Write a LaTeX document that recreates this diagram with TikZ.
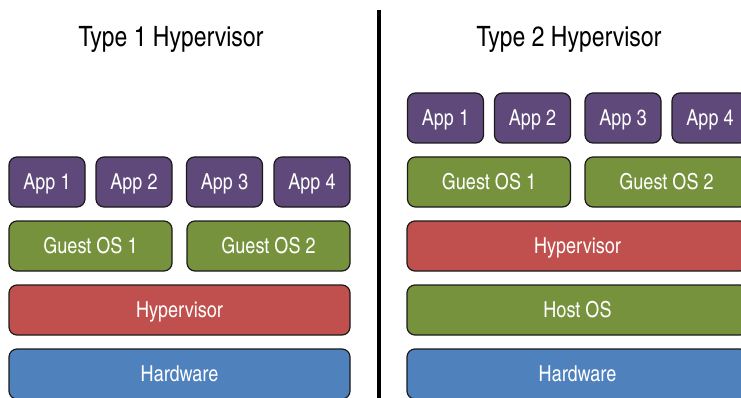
\documentclass[tikz,border=0pt]{standalone}
\usepackage{fontspec}
\setmainfont{texgyreheroscn-regular.otf}
\definecolor{apppurple}{HTML}{5F497A}
\definecolor{osgreen}{HTML}{76923C}
\definecolor{hvred}{HTML}{C0504D}
\definecolor{hwblue}{HTML}{4F81BD}
\definecolor{edge}{HTML}{1A1A1A}
\tikzset{
  layer/.style={draw=edge, line width=1.2pt, rounded corners=8pt, text=white,
    minimum height=50pt, inner sep=0pt, text height=15.8pt, text depth=0pt,
    font=\fontsize{22}{24}\selectfont},
  app/.style={layer, fill=apppurple, minimum width=76pt},
  guest/.style={layer, fill=osgreen, minimum width=163pt},
  hyper/.style={layer, fill=hvred, minimum width=341pt},
  hostos/.style={layer, fill=osgreen, minimum width=341pt},
  hw/.style={layer, fill=hwblue, minimum width=341pt},
  title/.style={font=\fontsize{28}{30}\selectfont, text=black, inner sep=0pt, anchor=base}
}
\begin{document}
\begin{tikzpicture}[x=1pt,y=-1pt]
\useasboundingbox (0,0) rectangle (741,398);
\clip (0,0) rectangle (741,398);
% titles
\node[title] (t1) at (171,47) {Type 1 Hypervisor};
\node[title] (t2) at (569,47) {Type 2 Hypervisor};
% divider
\coordinate (dtop) at (378.5,10);
\coordinate (dbot) at (378.5,410);
\draw[line width=4pt, black] (dtop) -- (dbot);
% Type 1
\node[app] (a1) at (47,182) {App 1};
\node[app] (a2) at (134,182) {App 2};
\node[app] (a3) at (224.5,182) {App 3};
\node[app] (a4) at (312,182) {App 4};
\node[guest] (g1) at (90.5,246) {Guest OS 1};
\node[guest] (g2) at (268.5,246) {Guest OS 2};
\node[hyper] (h1) at (179.5,310) {Hypervisor};
\node[hw] (hw1) at (179.5,374) {Hardware};
% Type 2
\node[app] (b1) at (445.5,118) {App 1};
\node[app] (b2) at (532.5,118) {App 2};
\node[app] (b3) at (623,118) {App 3};
\node[app] (b4) at (710,118) {App 4};
\node[guest] (k1) at (489,182) {Guest OS 1};
\node[guest] (k2) at (666.5,182) {Guest OS 2};
\node[hyper] (h2) at (577.5,246) {Hypervisor};
\node[hostos] (ho) at (577.5,310) {Host OS};
\node[hw] (hw2) at (577.5,374) {Hardware};
\end{tikzpicture}
\end{document}
